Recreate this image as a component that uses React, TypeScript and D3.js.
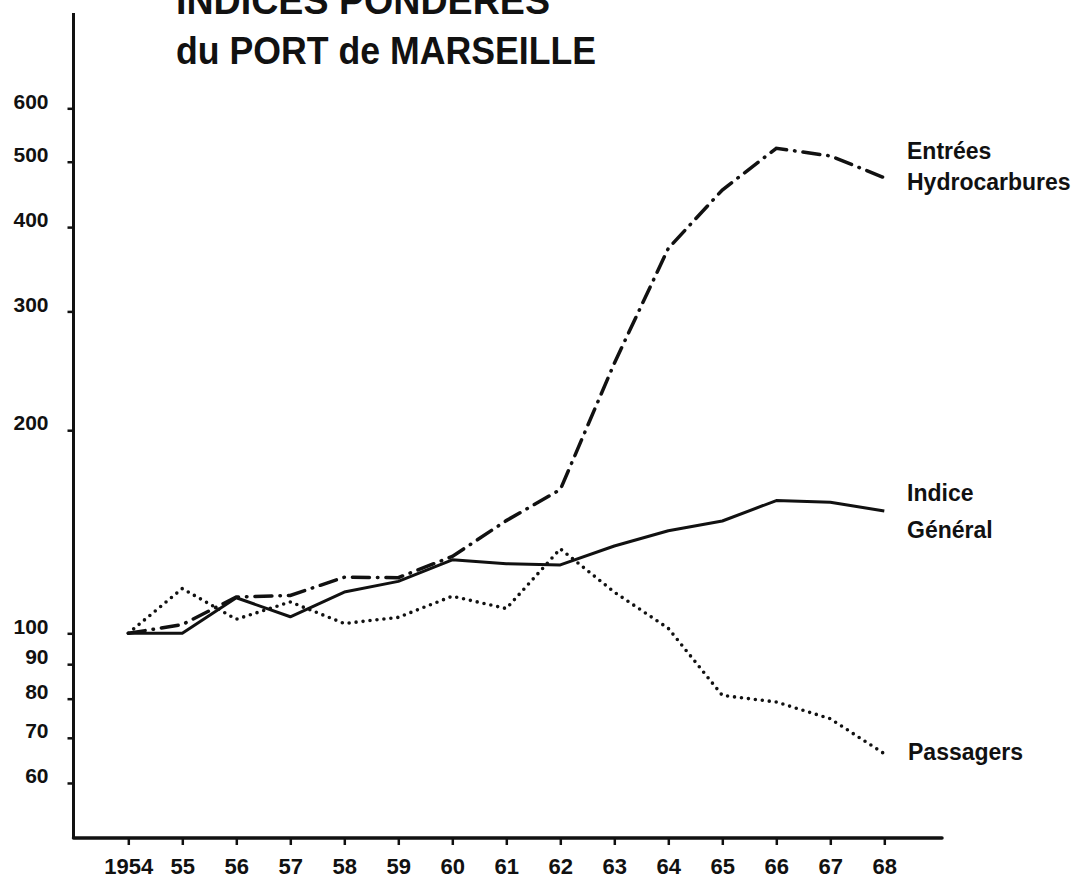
import { useEffect, useRef } from "react";
import * as d3 from "d3";

const years = [1954, 1955, 1956, 1957, 1958, 1959, 1960, 1961, 1962, 1963, 1964, 1965, 1966, 1967, 1968];
const yearLabels = ["1954", "55", "56", "57", "58", "59", "60", "61", "62", "63", "64", "65", "66", "67", "68"];

const indiceGeneral = [100, 100, 112.9, 105.8, 115.1, 119.4, 128.5, 126.8, 126.3, 134.7, 141.9, 146.7, 157.3, 156.4, 151.8];
const passagers = [100, 116.5, 104.9, 111.3, 103.4, 105.6, 113.5, 108.8, 133.4, 115.1, 101.7, 80.9, 79.1, 74.7, 66.3];
const hydrocarbures = [100, 103, 113.2, 113.8, 121.1, 120.9, 130, 146.9, 163.3, 251.3, 372, 454, 523.5, 510, 473.4];

const yTicks = [60, 70, 80, 90, 100, 200, 300, 400, 500, 600];

const FONT = "'Liberation Sans', Arial, sans-serif";

export default function App() {
  const svgRef = useRef<SVGSVGElement | null>(null);

  useEffect(() => {
    if (!svgRef.current) return;
    const svg = d3.select(svgRef.current);
    svg.selectAll("*").remove();

    const x = d3.scaleLinear().domain([1954, 1968]).range([128.3, 884.3]);
    const y = d3.scaleLog().domain([100, 600]).range([633.3, 108.3]);

    const axisX = 73.5;
    const axisY = 838;

    // titre (première ligne coupée en haut)
    const title = svg
      .append("g")
      .attr("font-family", FONT)
      .attr("font-weight", "bold")
      .attr("font-size", 39)
      .attr("fill", "#111");
    title
      .append("text")
      .attr("x", 176)
      .attr("y", 14)
      .attr("textLength", 374)
      .attr("lengthAdjust", "spacingAndGlyphs")
      .text("INDICES PONDERES");
    title
      .append("text")
      .attr("x", 176)
      .attr("y", 64)
      .attr("textLength", 420)
      .attr("lengthAdjust", "spacingAndGlyphs")
      .text("du PORT de MARSEILLE");

    // axe vertical
    svg
      .append("line")
      .attr("x1", axisX)
      .attr("x2", axisX)
      .attr("y1", 13)
      .attr("y2", axisY)
      .attr("stroke", "#111")
      .attr("stroke-width", 3);

    const yAxis = svg
      .append("g")
      .attr("transform", `translate(${axisX},0)`)
      .call(
        d3
          .axisLeft(y)
          .tickValues(yTicks)
          .tickFormat((d) => String(d))
          .tickSize(6)
          .tickPadding(19),
      );
    yAxis.select(".domain").remove();
    yAxis.selectAll("line").attr("stroke", "#111").attr("stroke-width", 2.5);
    yAxis
      .selectAll("text")
      .attr("y", -7)
      .attr("fill", "#111")
      .attr("font-family", FONT)
      .attr("font-weight", "bold")
      .attr("font-size", 21);

    // axe horizontal
    svg
      .append("line")
      .attr("x1", axisX)
      .attr("x2", 942)
      .attr("y1", axisY)
      .attr("y2", axisY)
      .attr("stroke", "#111")
      .attr("stroke-width", 3.5)
      .attr("stroke-linecap", "round");

    const xAxis = svg
      .append("g")
      .attr("transform", `translate(0,${axisY})`)
      .call(
        d3
          .axisBottom(x)
          .tickValues(years)
          .tickFormat((_, i) => yearLabels[i])
          .tickSize(7)
          .tickPadding(13),
      );
    xAxis.select(".domain").remove();
    xAxis.selectAll("line").attr("stroke", "#111").attr("stroke-width", 2.5);
    xAxis
      .selectAll("text")
      .attr("fill", "#111")
      .attr("font-family", FONT)
      .attr("font-weight", "bold")
      .attr("font-size", 22);

    const line = d3
      .line<number>()
      .x((_, i) => x(years[i]))
      .y((d) => y(d));

    svg
      .append("path")
      .datum(indiceGeneral)
      .attr("d", line)
      .attr("fill", "none")
      .attr("stroke", "#111")
      .attr("stroke-width", 3)
      .attr("stroke-linejoin", "round");

    svg
      .append("path")
      .datum(hydrocarbures)
      .attr("d", line)
      .attr("fill", "none")
      .attr("stroke", "#111")
      .attr("stroke-width", 3.5)
      .attr("stroke-linecap", "round")
      .attr("stroke-dasharray", "17 8 0.5 8");

    svg
      .append("path")
      .datum(passagers)
      .attr("d", line)
      .attr("fill", "none")
      .attr("stroke", "#111")
      .attr("stroke-width", 3.6)
      .attr("stroke-linecap", "round")
      .attr("stroke-dasharray", "0 7");

    // étiquettes des courbes
    const labels = svg
      .append("g")
      .attr("font-family", FONT)
      .attr("font-weight", "bold")
      .attr("font-size", 23)
      .attr("fill", "#111");
    labels.append("text").attr("x", 907).attr("y", 159).text("Entrées");
    labels.append("text").attr("x", 907).attr("y", 190).text("Hydrocarbures");
    labels.append("text").attr("x", 907).attr("y", 501).text("Indice");
    labels.append("text").attr("x", 907).attr("y", 538).text("Général");
    labels.append("text").attr("x", 908).attr("y", 760).text("Passagers");
  }, []);

  return (
    <svg
      ref={svgRef}
      width={1078}
      height={879}
      style={{ position: "absolute", left: 0, top: 0, background: "#fff" }}
    />
  );
}
